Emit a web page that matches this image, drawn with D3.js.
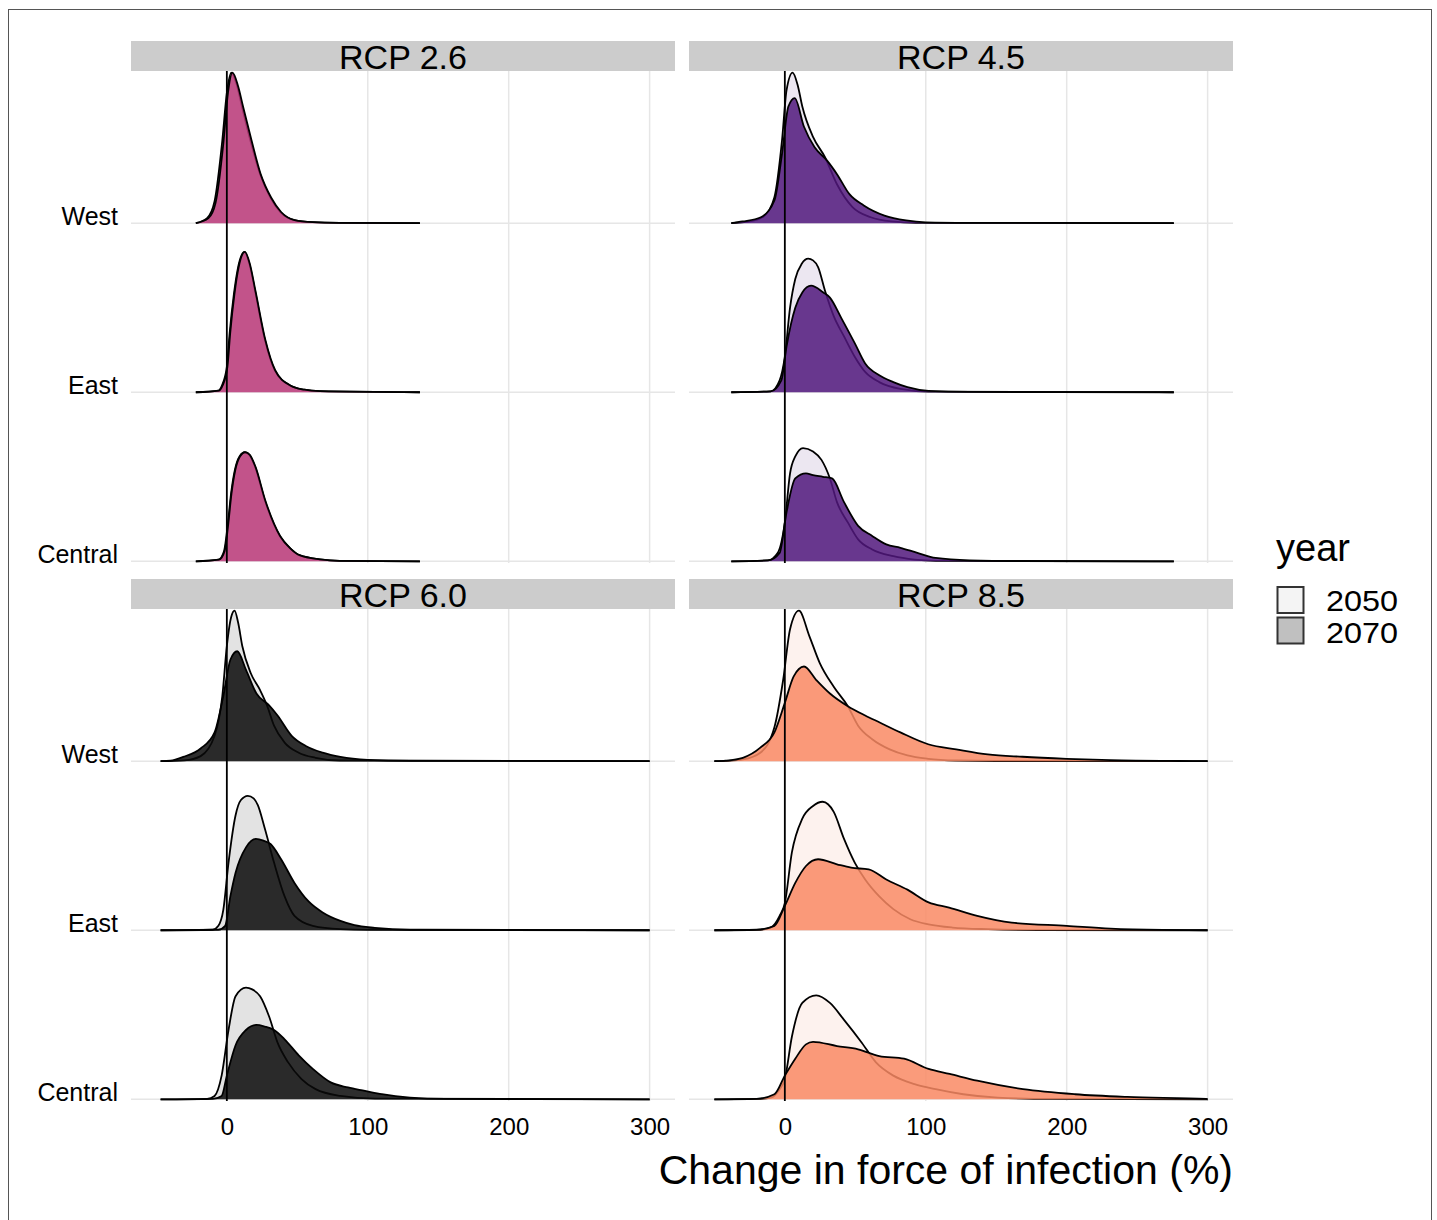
<!DOCTYPE html>
<html>
<head>
<meta charset="utf-8">
<script src="https://d3js.org/d3.v7.min.js"></script>
<style>
  body { margin: 0; background: #fff; }
  text { font-family: "Liberation Sans", Arial, sans-serif; }
</style>
</head>
<body>
<svg width="1437" height="1220"></svg>
<script>
// panels, rows, years
var scenarios = ["RCP 2.6", "RCP 4.5", "RCP 6.0", "RCP 8.5"];
var regions = ["West", "East", "Central"];
var regionPos = [3, 2, 1];
var years = ["2050", "2070"];
var xTicks = [0, 100, 200, 300];

// range of the density estimate in each panel (% change)
var xStart = [-22, -38, -47, -50];
var xEnd = [137, 276, 300, 300];

// colours as they appear on white
var fill2050 = ["#f5e3ec", "#ece7f1", "#e3e3e3", "#fdf2ee"];
var fill2070 = ["#c3578d", "#6b3b90", "#2e2e2e", "#fa9b7b"];
var legendFill = ["#f4f4f4", "#c0c0c0"];

// densities: [change %, height in row units]
// RCP 2.6
var w26_2050 = [[-14,0.03],[-8.7,0.13],[-3.2,0.49],[0,0.77],[3.2,0.89],[7,0.82],[11,0.68],[17,0.48],[23.6,0.29],[31,0.15],[38,0.065],[48,0.018],[61,0.006],[80,0.002]];
var w26_2070 = [[-13,0.03],[-8,0.12],[-2.5,0.47],[0.8,0.77],[4,0.89],[8,0.81],[11.5,0.69],[17.5,0.49],[24,0.29],[31.5,0.15],[38.5,0.066],[48,0.018],[61,0.006],[80,0.002]];
var e26_2050 = [[-6,0.01],[-3.5,0.04],[0,0.15],[2,0.35],[5,0.58],[8,0.74],[12.5,0.83],[16,0.76],[20,0.6],[27,0.31],[34,0.13],[45,0.04],[55,0.015],[66,0.006]];
var e26_2070 = [[-5.5,0.01],[-3,0.04],[0.4,0.15],[2.4,0.35],[5.4,0.58],[8.4,0.74],[12.8,0.83],[16.3,0.76],[20.3,0.6],[27.3,0.31],[34.3,0.13],[45,0.04],[55,0.015],[66,0.006]];
var c26_2050 = [[-6,0.01],[-2,0.06],[0.7,0.22],[3,0.4],[5.7,0.54],[9,0.62],[12.8,0.645],[16,0.63],[20,0.56],[27,0.36],[37.6,0.15],[45,0.077],[52,0.035],[66,0.012],[80,0.003]];
var c26_2070 = [[-5.5,0.01],[-1.6,0.06],[1,0.22],[3.3,0.4],[6,0.54],[9.3,0.62],[13,0.645],[16.3,0.63],[20.3,0.56],[27.3,0.36],[37.8,0.15],[45,0.077],[52,0.035],[66,0.012],[80,0.003]];
// RCP 4.5
var w45_2050 = [[-25,0.01],[-15,0.04],[-7.4,0.154],[-2,0.49],[1.2,0.785],[5.5,0.89],[9,0.82],[12.4,0.69],[20,0.51],[28.5,0.39],[37,0.23],[48,0.095],[61,0.035],[75.7,0.01],[93,0.002]];
var w45_2070 = [[-30,0.01],[-17,0.035],[-7.4,0.134],[-2,0.41],[2.5,0.69],[7,0.74],[13.6,0.57],[21,0.45],[30,0.37],[37,0.29],[46,0.17],[56,0.105],[70.7,0.045],[86,0.016],[100,0.005],[130,0.002]];
var e45_2050 = [[-10,0.005],[-3.7,0.07],[0,0.21],[3.7,0.5],[7.4,0.67],[12,0.76],[16.6,0.79],[20,0.78],[23.6,0.74],[28.5,0.6],[34.7,0.45],[42,0.33],[49.6,0.21],[57,0.12],[67,0.06],[82,0.02],[102,0.004]];
var e45_2070 = [[-10,0.005],[-2.5,0.07],[1.2,0.27],[7.4,0.5],[12.4,0.59],[18.6,0.63],[27.3,0.59],[32,0.56],[40,0.44],[49.6,0.29],[57,0.17],[67,0.1],[77,0.06],[87,0.03],[102,0.008],[131,0.002]];
var c45_2050 = [[-12,0.005],[-5,0.05],[0,0.23],[3.7,0.52],[7.4,0.62],[12.9,0.67],[20,0.65],[26,0.6],[32,0.49],[37,0.35],[44.7,0.23],[52,0.13],[62,0.07],[77,0.03],[92,0.01],[107,0.003]];
var c45_2070 = [[-12,0.005],[-3.7,0.05],[1.2,0.29],[7.4,0.49],[15,0.52],[20,0.51],[27,0.5],[33.5,0.49],[42,0.35],[52,0.21],[62,0.15],[72,0.1],[82,0.08],[94,0.05],[107,0.02],[131,0.006],[181,0.001]];
// RCP 6.0
var w60_2050 = [[-30,0.005],[-18.6,0.03],[-8.7,0.15],[-3.2,0.385],[0,0.68],[3,0.85],[5.5,0.89],[8,0.82],[11,0.68],[17,0.52],[23.6,0.42],[28.5,0.33],[33.5,0.21],[41,0.11],[51,0.05],[63,0.02],[80,0.004]];
var w60_2070 = [[-40,0.003],[-31,0.025],[-18.6,0.075],[-8.7,0.17],[-2.5,0.385],[2.5,0.6],[7.4,0.65],[13.6,0.54],[21,0.4],[30,0.33],[36,0.27],[46,0.15],[56,0.09],[68,0.05],[80.6,0.025],[100,0.008],[130,0.002]];
var e60_2050 = [[-10,0.003],[-6,0.026],[-2.5,0.12],[1.2,0.4],[6.2,0.68],[10,0.77],[14.9,0.795],[19,0.78],[22,0.74],[27,0.6],[33.5,0.4],[41,0.2],[48,0.085],[61,0.026],[80.6,0.006],[100,0.002]];
var e60_2070 = [[-6,0.003],[-1.2,0.026],[2.5,0.2],[6.2,0.34],[13.6,0.49],[20.6,0.54],[26,0.53],[31,0.51],[38.5,0.42],[48,0.28],[58,0.17],[68,0.105],[80.6,0.055],[90.6,0.03],[105,0.014],[130,0.003]];
var c60_2050 = [[-14,0.003],[-8.7,0.02],[-3.7,0.14],[1.2,0.41],[6.2,0.61],[13.6,0.66],[18,0.65],[23.6,0.61],[30,0.49],[36,0.335],[43.4,0.22],[53,0.12],[63,0.06],[80.6,0.02],[105,0.004]];
var c60_2070 = [[-10,0.003],[-3.7,0.02],[0,0.14],[6.2,0.32],[13.6,0.41],[21,0.44],[27,0.43],[33.5,0.41],[41,0.355],[51,0.26],[61,0.18],[73.7,0.1],[86,0.07],[98,0.05],[110,0.03],[130,0.01],[155,0.002]];
// RCP 8.5
var w85_2050 = [[-40,0.002],[-29.8,0.01],[-17.4,0.05],[-7.4,0.2],[-1.2,0.48],[3.7,0.78],[10,0.89],[17.4,0.74],[24.8,0.58],[34.7,0.44],[44.7,0.325],[52,0.21],[62,0.13],[74.4,0.07],[87,0.034],[101.7,0.014],[121.6,0.004],[150,0.001]];
var w85_2070 = [[-42,0.003],[-29.8,0.02],[-17.4,0.08],[-7.4,0.17],[0,0.345],[6.2,0.5],[13.6,0.56],[22.3,0.48],[32,0.4],[44.7,0.325],[57,0.27],[67,0.23],[82,0.17],[101.7,0.1],[121.6,0.07],[144,0.04],[168.7,0.026],[200,0.014],[231,0.006],[280,0.001]];
var e85_2050 = [[-20,0.002],[-10,0.016],[-3.7,0.085],[0,0.16],[5,0.46],[12.4,0.66],[20,0.735],[26.8,0.76],[34.7,0.7],[42,0.54],[49.6,0.4],[57,0.3],[67,0.2],[77,0.125],[89,0.065],[102,0.035],[119,0.016],[144,0.006],[180,0.001]];
var e85_2070 = [[-20,0.003],[-7.4,0.026],[0,0.144],[7.4,0.28],[15,0.38],[23.6,0.42],[37,0.39],[47,0.37],[59.5,0.36],[72,0.3],[87,0.24],[102,0.165],[116.6,0.134],[136.5,0.085],[161,0.045],[200,0.026],[231,0.01],[268,0.002]];
var c85_2050 = [[-20,0.002],[-10,0.01],[-3.7,0.06],[0,0.12],[5,0.37],[12.4,0.57],[22.3,0.615],[32,0.57],[42,0.47],[54.6,0.335],[64.5,0.22],[77,0.14],[92,0.09],[107,0.06],[126.6,0.03],[151,0.01],[190,0.002]];
var c85_2070 = [[-20,0.003],[-7.4,0.03],[0,0.14],[7.4,0.24],[15,0.325],[20,0.34],[37,0.315],[52,0.296],[67,0.256],[84.6,0.24],[102,0.18],[117,0.15],[136.5,0.11],[169,0.06],[206,0.03],[243,0.014],[299,0.002]];

// panel -> region -> [2050, 2070]
var curves = [
  [[w26_2050, w26_2070], [e26_2050, e26_2070], [c26_2050, c26_2070]],
  [[w45_2050, w45_2070], [e45_2050, e45_2070], [c45_2050, c45_2070]],
  [[w60_2050, w60_2070], [e60_2050, e60_2070], [c60_2050, c60_2070]],
  [[w85_2050, w85_2070], [e85_2050, e85_2070], [c85_2050, c85_2070]]
];

var svg = d3.select("svg");

// outer frame
svg.append("rect")
    .attr("x", 8.5).attr("y", 9.5)
    .attr("width", 1423).attr("height", 1220)
    .attr("fill", "none").attr("stroke", "#555").attr("stroke-width", 1);

var panelW = 544, panelH = 492, stripH = 30;
var panelX = [131, 689], panelY = [71, 609];

var x = d3.scaleLinear().domain([-68, 318]).range([0, panelW]);
var y = d3.scaleLinear().domain([0.99, 3.9]).range([panelH, 0]);

var alpha = 0.85;
function underColor(c) {
    // colour that gives c over white at the given opacity
    var v = d3.rgb(c);
    return d3.rgb((v.r - 255 * (1 - alpha)) / alpha,
                  (v.g - 255 * (1 - alpha)) / alpha,
                  (v.b - 255 * (1 - alpha)) / alpha).clamp().formatHex();
}

scenarios.forEach(function(s, i) {
    var col = i % 2, row = Math.floor(i / 2);
    var g = svg.append("g")
        .attr("transform", "translate(" + panelX[col] + "," + panelY[row] + ")");

    // strip
    svg.append("rect")
        .attr("x", panelX[col]).attr("y", panelY[row] - stripH)
        .attr("width", panelW).attr("height", stripH)
        .attr("fill", "#cccccc");
    svg.append("text")
        .attr("x", panelX[col] + panelW / 2).attr("y", panelY[row] - 2)
        .attr("text-anchor", "middle")
        .attr("font-size", 34)
        .text(s);

    // grid
    g.selectAll(".vg").data(xTicks).enter().append("line")
        .attr("x1", function(d) { return x(d); }).attr("x2", function(d) { return x(d); })
        .attr("y1", 0).attr("y2", panelH)
        .attr("stroke", "#e6e6e6").attr("stroke-width", 1.5);
    g.selectAll(".hg").data(regionPos).enter().append("line")
        .attr("x1", 0).attr("x2", panelW)
        .attr("y1", function(d) { return y(d); }).attr("y2", function(d) { return y(d); })
        .attr("stroke", "#e6e6e6").attr("stroke-width", 1.5);

    regions.forEach(function(r, j) {
        var base = regionPos[j];
        var area = d3.area().curve(d3.curveMonotoneX)
            .x(function(d) { return x(d[0]); })
            .y0(y(base))
            .y1(function(d) { return y(base + d[1]); });
        var line = d3.line().curve(d3.curveMonotoneX)
            .x(function(d) { return x(d[0]); })
            .y(function(d) { return y(base + d[1]); });

        years.forEach(function(yr, k) {
            var pts = curves[i][j][k].slice();
            pts.unshift([xStart[i], 0]);
            if (pts[pts.length - 1][0] < xEnd[i]) pts.push([xEnd[i], 0]);
            g.append("path")
                .attr("d", area(pts))
                .attr("fill", k === 0 ? fill2050[i] : underColor(fill2070[i]))
                .attr("fill-opacity", k === 0 ? 1 : alpha);
            g.append("path")
                .attr("d", line(pts))
                .attr("fill", "none")
                .attr("stroke", "#000")
                .attr("stroke-width", 1.8);
        });
    });

    // reference line at 0
    g.append("line")
        .attr("x1", x(0)).attr("x2", x(0))
        .attr("y1", 0).attr("y2", panelH)
        .attr("stroke", "#000").attr("stroke-width", 1.8);

    // region labels
    if (col === 0) {
        g.selectAll(".rl").data(regions).enter().append("text")
            .attr("x", -13)
            .attr("y", function(d, j) { return y(regionPos[j]) + 2; })
            .attr("text-anchor", "end")
            .attr("font-size", 25)
            .text(function(d) { return d; });
    }

    // x axis
    if (row === 1) {
        var ax = g.append("g")
            .attr("transform", "translate(0," + panelH + ")")
            .call(d3.axisBottom(x).tickValues(xTicks).tickSize(0).tickPadding(17));
        ax.select(".domain").remove();
        ax.selectAll("text")
            .attr("font-size", 24)
            .attr("font-family", "Liberation Sans, Arial, sans-serif")
            .attr("fill", "#000");
    }
});

// axis title
svg.append("text")
    .attr("x", 1233).attr("y", 1184)
    .attr("text-anchor", "end")
    .attr("font-size", 41)
    .text("Change in force of infection (%)");

// legend
svg.append("text")
    .attr("x", 1276).attr("y", 561)
    .attr("font-size", 38)
    .text("year");
years.forEach(function(yr, k) {
    svg.append("rect")
        .attr("x", 1277.5).attr("y", 587 + k * 30.5)
        .attr("width", 26).attr("height", 26)
        .attr("fill", legendFill[k])
        .attr("stroke", "#333").attr("stroke-width", 2);
    svg.append("text")
        .attr("x", 1326).attr("y", 611 + k * 32)
        .attr("font-size", 30)
        .attr("textLength", 72)
        .attr("lengthAdjust", "spacingAndGlyphs")
        .text(yr);
});
</script>
</body>
</html>
